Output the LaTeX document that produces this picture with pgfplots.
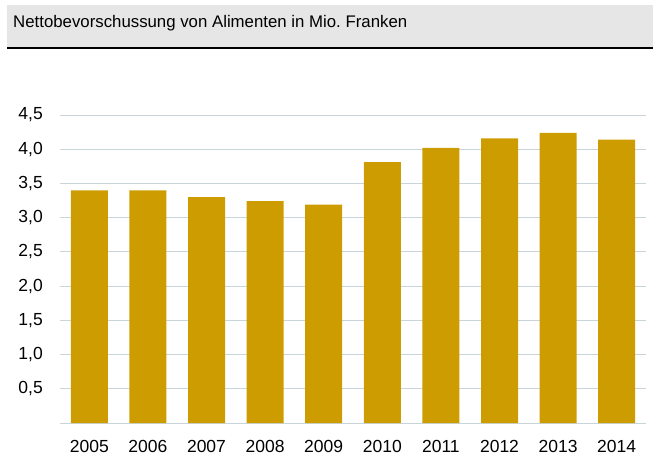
\documentclass[border=0pt]{standalone}
\usepackage{fontspec}
\setmainfont{Liberation Sans}
\usepackage{pgfplots}
\pgfplotsset{compat=1.18}
\definecolor{barc}{HTML}{CC9C00}
\definecolor{gridc}{HTML}{C8D6DB}
\definecolor{titlebg}{HTML}{E6E6E6}
\begin{document}
\frenchspacing
\begin{tikzpicture}[x=1pt,y=1pt]
\useasboundingbox (0,0) rectangle (660,456);
\fill[titlebg] (7,408) rectangle (653,451);
\draw[black, line width=1.2pt] (7,408) -- (653,408);
\node[anchor=base west, font=\fontsize{16.8}{19}\selectfont, inner sep=0pt] at (13,428) {Nettobevorschussung von Alimenten in Mio.\ Franken};
\begin{axis}[
  at={(60pt,33pt)}, anchor=south west,
  scale only axis, width=586pt, height=308pt,
  xmin=-0.5, xmax=9.5, ymin=0, ymax=4.5,
  axis line style={draw=none},
  major tick style={draw=none},
  ytick={0.5,1,1.5,2,2.5,3,3.5,4,4.5},
  extra y ticks={0}, extra y tick labels={},
  extra y tick style={grid=major},
  ymajorgrids,
  grid style={gridc, line width=1pt},
  xtick={0,...,9},
  xticklabels={2005,2006,2007,2008,2009,2010,2011,2012,2013,2014},
  /pgf/number format/.cd, use comma, fixed, fixed zerofill, precision=1, assume math mode=true,
  /pgfplots/.cd,
  yticklabel style={font=\fontsize{17.5}{20}\selectfont, anchor=east, inner sep=0pt, xshift=-17pt},
  xticklabel style={font=\fontsize{17.5}{20}\selectfont, anchor=north, inner sep=0pt, yshift=-17pt},
]
\addplot[ybar, bar width=37pt, fill=barc, draw=none] coordinates {
(0,3.40) (1,3.40) (2,3.30) (3,3.24) (4,3.19) (5,3.81) (6,4.02) (7,4.16) (8,4.24) (9,4.14)
};
\end{axis}
\end{tikzpicture}
\end{document}
